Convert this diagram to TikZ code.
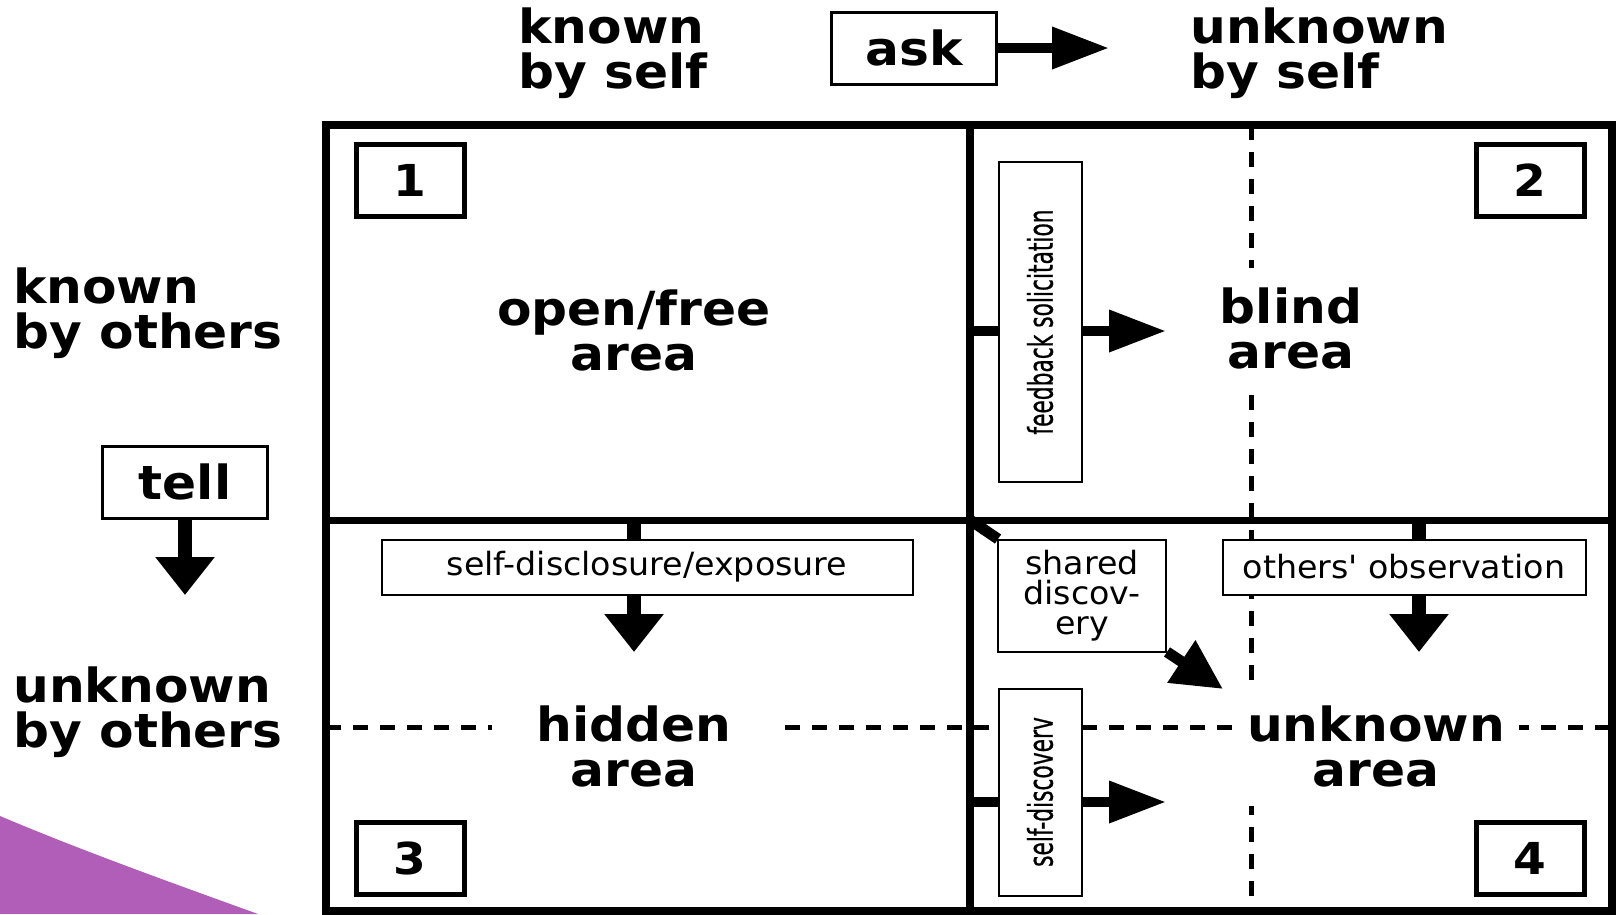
\documentclass[tikz,border=0pt]{standalone}
\usepackage{fontspec}
\setmainfont{DejaVu Sans}[FakeStretch=1.04, BoldFeatures={FakeStretch=1.07}]
\newfontfamily\narrowfont[FakeStretch=0.64, FakeBold=0.6]{DejaVu Sans}
\usetikzlibrary{arrows.meta}
\definecolor{swoosh}{RGB}{176,94,184}

\tikzset{
  heading/.style={font=\bfseries\fontsize{47}{45}\selectfont, inner sep=0pt, align=left, anchor=north west},
  area/.style={font=\bfseries\fontsize{47}{45}\selectfont, align=center, fill=white,
    text width=285pt, minimum height=120pt, inner sep=0pt},
  numbox/.style={draw, line width=5pt, font=\bfseries\fontsize{44}{44}\selectfont,
    minimum width=108pt, minimum height=72pt},
  cmdbox/.style={draw, line width=3pt, fill=white, font=\bfseries\fontsize{47}{45}\selectfont,
    minimum width=165pt, minimum height=72pt},
  labelbox/.style={draw, line width=2pt, fill=white, font=\fontsize{32}{30}\selectfont,
    inner sep=0pt, align=center},
  narrowbox/.style={labelbox, font=\narrowfont\fontsize{34}{34}\selectfont,
    minimum width=83pt},
  fat/.style={line width=10pt},
  fatarrow/.style={line width=10pt, -{Triangle[length=57pt, width=40pt]}},
  downfat/.style={line width=14pt},
  downarrow/.style={line width=14pt, -{Triangle[length=38pt, width=57pt]}},
  divider/.style={line width=5pt, dash pattern=on 15pt off 12pt},
  frame/.style={line width=8pt}
}

\begin{document}
\begin{tikzpicture}[x=1pt, y=-1pt]
\useasboundingbox (0,0) rectangle (1618,914);

% purple swoosh in the corner
\fill[swoosh] (0,816) .. controls (80,850) and (175,884) .. (258,914) -- (0,914) -- cycle;

% window grid
\coordinate (tl) at (326,125);
\coordinate (br) at (1612,911);
\coordinate (mid) at (970,520);
\draw[divider] (326,727) -- (1612,727);
\draw[divider] (1251,125) -- (1251,911);
\draw[frame] (tl) rectangle (br);
\draw[frame] (mid |- tl) -- (mid |- br);
\draw[line width=7pt] (mid -| tl) -- (mid -| br);

% the four areas
\node[area] (open)    at (634,330)  {open/free\\area};
\node[area] (blind)   at (1291,328) {blind\\area};
\node[area] (hidden)  at (634,746)  {hidden\\area};
\node[area] (unknown) at (1376,746) {unknown\\area};

\node[numbox] (n1) at (410,180)  {1};
\node[numbox] (n2) at (1530,180) {2};
\node[numbox] (n3) at (410,858)  {3};
\node[numbox] (n4) at (1530,858) {4};

% axis headings
\node[heading] (kself)   at (518,8)   {known\\by self};
\node[heading] (uself)   at (1190,8)  {unknown\\by self};
\node[heading] (kothers) at (13,268)  {known\\by others};
\node[heading] (uothers) at (13,667)  {unknown\\by others};

\node[cmdbox] (ask)  at (914,48)  {ask};
\node[cmdbox] (tell) at (185,482) {tell};
\coordinate (asktip) at (1109,48);
\coordinate (telltip) at (185,595);
\draw[fatarrow] (ask.east) -- (asktip);
\draw[downarrow] (tell.south) -- (telltip);

% transitions between the areas
\node[narrowbox, minimum height=320pt] (feedback) at (1040,322) {\rotatebox{90}{feedback solicitation}};
\node[narrowbox, minimum height=207pt] (selfdisc) at (1040,792) {\rotatebox{90}{self-discoverv}};
\node[labelbox, minimum width=531pt, minimum height=55pt] (disclose) at (647,567) {self-disclosure/exposure};
\node[labelbox, minimum width=363pt, minimum height=55pt] (observe) at (1404,567) {others\textquotesingle\ observation};
\node[labelbox, minimum width=168pt, minimum height=112pt] (shared) at (1082,596) {shared\\discov-\\ery};

\coordinate (fbfrom) at (970,331);
\coordinate (fbtip) at (1166,331);
\coordinate (sdfrom) at (970,802);
\coordinate (sdtip) at (1166,802);
\coordinate (dcfrom) at (634,520);
\coordinate (dctip) at (634,652);
\coordinate (obfrom) at (1419,520);
\coordinate (obtip) at (1419,652);
\coordinate (shtip) at (1223,689);

\draw[fat] (fbfrom) -- (fbfrom -| feedback.west);
\draw[fatarrow] (fbfrom -| feedback.east) -- (fbtip);
\draw[fat] (sdfrom) -- (sdfrom -| selfdisc.west);
\draw[fatarrow] (sdfrom -| selfdisc.east) -- (sdtip);
\draw[downfat] (dcfrom) -- (dcfrom |- disclose.north);
\draw[downarrow] (dcfrom |- disclose.south) -- (dctip);
\draw[downfat] (obfrom) -- (obfrom |- observe.north);
\draw[downarrow] (obfrom |- observe.south) -- (obtip);
\draw[line width=11pt] (mid) -- (shared);
\draw[line width=11pt, -{Triangle[length=50pt, width=48pt]}] (shared) -- (shtip);
\end{tikzpicture}
\end{document}
